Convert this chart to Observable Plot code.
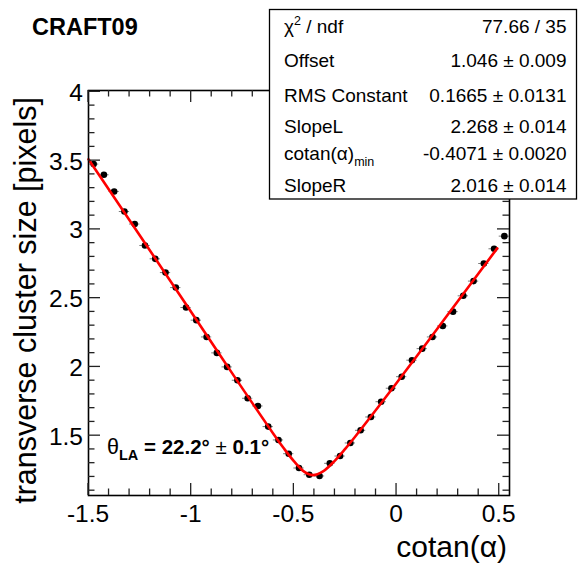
<!DOCTYPE html>
<html><head><meta charset="utf-8">
<script src="https://cdn.jsdelivr.net/npm/d3@7"></script>
<script src="https://cdn.jsdelivr.net/npm/@observablehq/plot@0.6"></script>
<style>
body{margin:0;background:#fff}
svg{display:block}
</style>
</head><body><div id="chart"></div>
<script>
// ---- data ----
const cotanAlpha = [-1.475,-1.425,-1.375,-1.325,-1.275,-1.225,-1.175,-1.125,-1.075,-1.025,
  -0.975,-0.925,-0.875,-0.825,-0.775,-0.725,-0.675,-0.625,-0.575,-0.525,
  -0.475,-0.425,-0.375,-0.325,-0.275,-0.225,-0.175,-0.125,-0.075,-0.025,
  0.025,0.075,0.125,0.175,0.225,0.275,0.325,0.375,0.425,0.475,0.525];
const clusterSize = [3.475,3.397,3.276,3.130,3.039,2.883,2.786,2.686,2.577,2.432,
  2.340,2.218,2.102,2.000,1.903,1.772,1.716,1.566,1.469,1.369,
  1.265,1.216,1.207,1.299,1.352,1.447,1.539,1.636,1.747,1.845,
  1.929,2.049,2.133,2.218,2.298,2.402,2.517,2.624,2.752,2.859,2.951];
const binHalfWidth = 0.025;

const fitCotan = [-1.5,-1.0,-0.8,-0.6,-0.55,-0.5,-0.45,-0.407,-0.36,-0.3,-0.25,-0.2,0.0,0.25,0.49];
const fitSize  = [3.51,2.40,1.953,1.514,1.41,1.315,1.239,1.213,1.238,1.319,1.404,1.496,1.883,2.381,2.862];

const xTickValues = [-1.5,-1,-0.5,0,0.5];
const xTickLabels = ["-1.5","-1","-0.5","0","0.5"];
const yTickValues = [1.5,2,2.5,3,3.5,4];
const yTickLabels = ["1.5","2","2.5","3","3.5","4"];
const minorStep = 0.1;

const statNames = ["χ2 / ndf","Offset","RMS Constant","SlopeL","cotan(α)min","SlopeR"];
const statValues = ["77.66 / 35","1.046 ± 0.009","0.1665 ± 0.0131","2.268 ± 0.014","-0.4071 ± 0.0020","2.016 ± 0.014"];

const titleText = "CRAFT09";
const xTitle = "cotan(α)";
const yTitle = "transverse cluster size [pixels]";

(function(){
const points = cotanAlpha.map((x,i)=>({x, y: clusterSize[i]}));
const fit = fitCotan.map((x,i)=>({x, y: fitSize[i]}));

const FONT = "'Liberation Sans', Arial, Helvetica, sans-serif";

const plot = Plot.plot({
  width: 579, height: 563,
  marginLeft: 88, marginRight: 70, marginTop: 90, marginBottom: 68,
  style: {fontFamily: FONT, background: "#fff", overflow: "visible"},
  x: {domain: [-1.5, 0.55], axis: null},
  y: {domain: [1.065, 4.01], axis: null},
  marks: [
    Plot.ruleY(points, {y: "y", x1: d=>d.x-binHalfWidth, x2: d=>d.x+binHalfWidth, stroke: "#7a7a7a", strokeWidth: 1, strokeDasharray: "2.5,1.5"}),
    Plot.dot(points, {x: "x", y: "y", r: 3.3, fill: "#000", stroke: "none"}),
    Plot.line(fit, {x: "x", y: "y", stroke: "#ff0000", strokeWidth: 2.6, curve: "catmull-rom"}),
    Plot.frame({stroke: "#000", strokeWidth: 1.6})
  ]
});
document.getElementById("chart").appendChild(plot);

const svg = d3.select(plot);
const xs = plot.scale("x"), ys = plot.scale("y");
const X = v => xs.apply(v), Y = v => ys.apply(v);
const [fLeft, fRight] = xs.range;
const [fBottom, fTop] = ys.range;

// ticks on all four sides, pointing inward
const tg = svg.append("g").attr("stroke", "#222").attr("stroke-width", 1.3);
const isMajor = v => Math.abs(v*2 - Math.round(v*2)) < 1e-6;
const xMinor = d3.range(Math.round(-1.5/minorStep), Math.round(0.55/minorStep)+1).map(i=>i*minorStep).filter(v=>v>=-1.5-1e-9 && v<=0.55);
xMinor.forEach(v=>{
  const L = isMajor(v) ? 12 : 6.5;
  const px = X(v);
  tg.append("line").attr("x1",px).attr("x2",px).attr("y1",fBottom).attr("y2",fBottom-L);
  tg.append("line").attr("x1",px).attr("x2",px).attr("y1",fTop).attr("y2",fTop+L);
});
const yMinor = d3.range(Math.ceil(1.065/minorStep), Math.floor(4.01/minorStep)+1).map(i=>i*minorStep);
yMinor.forEach(v=>{
  const L = isMajor(v) ? 12 : 6.5;
  const py = Y(v);
  tg.append("line").attr("y1",py).attr("y2",py).attr("x1",fLeft).attr("x2",fLeft+L);
  tg.append("line").attr("y1",py).attr("y2",py).attr("x1",fRight).attr("x2",fRight-L);
});

// tick labels
const lg = svg.append("g").attr("font-family", FONT).attr("fill", "#000").attr("text-anchor","start");
xTickValues.forEach((v,i)=>{
  lg.append("text").attr("x", X(v)).attr("y", fBottom+27).attr("text-anchor","middle")
    .attr("font-size", 24.5).text(xTickLabels[i]);
});
yTickValues.forEach((v,i)=>{
  lg.append("text").attr("x", fLeft-5).attr("y", Y(v)+9.5).attr("text-anchor","end")
    .attr("font-size", 24.5).text(yTickLabels[i]);
});

// axis titles
lg.append("text").attr("x", fRight-2).attr("y", 557).attr("text-anchor","end")
  .attr("font-size", 30).text(xTitle);
lg.append("text").attr("transform", `translate(36,${fTop+7}) rotate(-90)`).attr("text-anchor","end")
  .attr("font-size", 30.5).text(yTitle);

// title
lg.append("text").attr("x", 32).attr("y", 35).attr("text-anchor","start").attr("font-size", 23.5).attr("font-weight","bold").text(titleText);

// theta annotation
const th = lg.append("text").attr("x", 107).attr("y", 454).attr("text-anchor","start").attr("font-size", 20.5);
th.append("tspan").attr("font-size", 21.5).text("θ");
th.append("tspan").attr("font-weight","bold").attr("font-size", 14.5).attr("dy", 6).text("LA");
th.append("tspan").attr("font-weight","bold").attr("dy", -6).text(" = 22.2°");
th.append("tspan").text(" ± ");
th.append("tspan").attr("font-weight","bold").text("0.1°");

// stats box
const sb = svg.append("g").attr("font-family", FONT).attr("font-size", 19).attr("text-anchor","start");
sb.append("rect").attr("x", 269.5).attr("y", 9.5).attr("width", 307).attr("height", 189.5)
  .attr("fill", "#fff").attr("stroke", "#000").attr("stroke-width", 1.3);
const baselines = [33, 66.5, 101.5, 133, 159.5, 191.5];
statNames.forEach((name,i)=>{
  const t = sb.append("text").attr("x", 284).attr("y", baselines[i]).attr("text-anchor","start");
  if (i === 0) {
    t.append("tspan").text("χ");
    t.append("tspan").attr("font-size", 12.5).attr("dy", -8).text("2");
    t.append("tspan").attr("dy", 8).text(" / ndf");
  } else if (i === 4) {
    t.append("tspan").text("cotan(α)");
    t.append("tspan").attr("font-size", 12.5).attr("dy", 6).text("min");
  } else {
    t.text(name);
  }
  sb.append("text").attr("x", 566.5).attr("y", baselines[i]).attr("text-anchor","end").text(statValues[i]);
});
})();
</script>
</body></html>
